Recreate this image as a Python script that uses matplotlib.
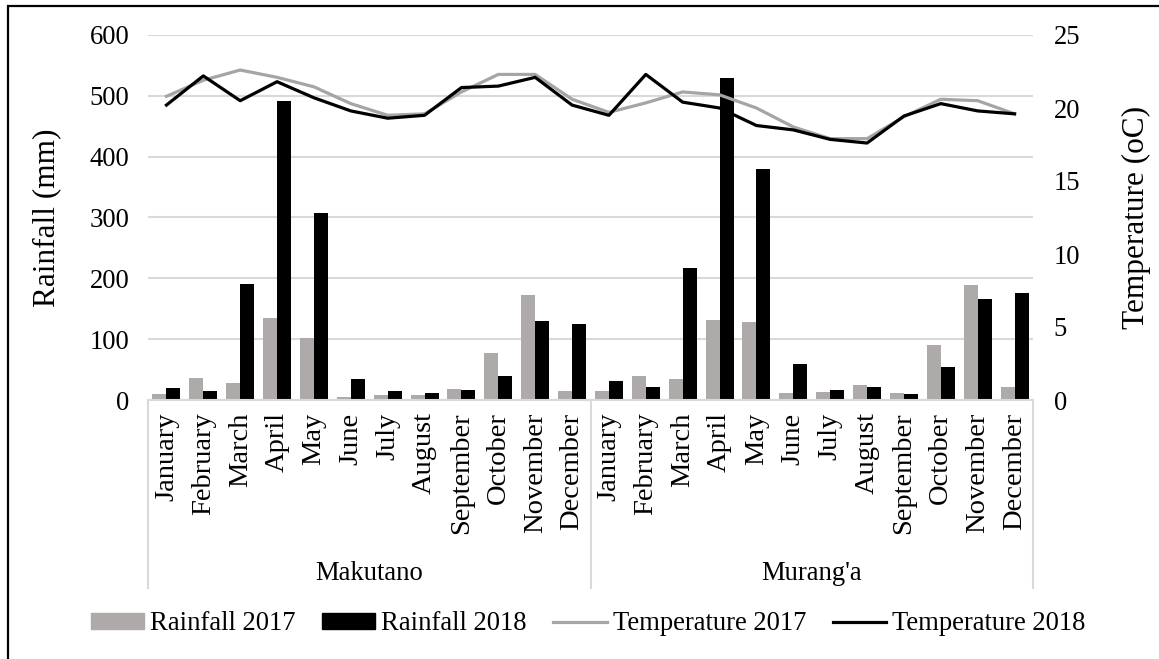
import numpy as np
import matplotlib
matplotlib.use("Agg")
import matplotlib.pyplot as plt
from matplotlib.patches import Rectangle
from matplotlib.lines import Line2D

plt.rcParams['font.family'] = ['Liberation Serif', 'DejaVu Serif']

months = ["January", "February", "March", "April", "May", "June", "July",
          "August", "September", "October", "November", "December"]
sites = ["Makutano", "Murang'a"]

# rainfall (mm), Makutano then Murang'a
rain_2017 = [10, 36, 28, 135, 102, 5, 9, 9, 18, 77, 172, 14,
             15, 39, 34, 131, 129, 12, 13, 24, 12, 90, 189, 21]
rain_2018 = [20, 15, 190, 492, 308, 34, 14, 12, 17, 40, 130, 125,
             31, 22, 217, 530, 379, 60, 17, 22, 10, 55, 166, 176]

# temperature (oC)
temp_2017 = [20.8, 21.9, 22.6, 22.1, 21.45, 20.3, 19.5, 19.6, 21.1, 22.3, 22.3, 20.6,
             19.7, 20.35, 21.1, 20.9, 20.0, 18.7, 17.9, 17.9, 19.4, 20.6, 20.5, 19.6]
temp_2018 = [20.2, 22.2, 20.5, 21.8, 20.7, 19.8, 19.3, 19.5, 21.4, 21.5, 22.1, 20.2,
             19.5, 22.3, 20.4, 20.0, 18.8, 18.5, 17.85, 17.6, 19.45, 20.3, 19.8, 19.6]

bar_gray = "#AEAAAA"
line_gray = "#A5A5A5"
grid_col = "#D9D9D9"
fs = 19.2

fig = plt.figure(figsize=(11.59, 6.59), dpi=100)
ax = fig.add_axes([148 / 1159, 1 - 400 / 659, 885 / 1159, 365 / 659])
ax2 = ax.twinx()

x = np.arange(len(rain_2017))
w = 0.38
ax.bar(x - w / 2, rain_2017, w, color=bar_gray, zorder=2)
ax.bar(x + w / 2, rain_2018, w, color="black", zorder=2)
ax.set_xlim(-0.5, len(x) - 0.5)
ax.set_ylim(0, 600)
ax.set_yticks(range(0, 601, 100))
ax.yaxis.grid(True, color=grid_col, linewidth=1.5, zorder=0)
ax.set_axisbelow(True)

ax2.plot(x, temp_2017, color=line_gray, linewidth=2.3, zorder=3)
ax2.plot(x, temp_2018, color="black", linewidth=2.3, zorder=3)
ax2.set_ylim(0, 25)
ax2.set_yticks(range(0, 26, 5))

for a in (ax, ax2):
    for s in ("top", "left", "right", "bottom"):
        a.spines[s].set_visible(False)
    a.tick_params(length=0, labelsize=fs)
ax.spines["bottom"].set_visible(True)
ax.spines["bottom"].set_color(grid_col)
ax.spines["bottom"].set_linewidth(1.5)

ax.tick_params(axis="y", pad=13.5)
ax2.tick_params(axis="y", pad=15)
ax.set_xticks(x)
ax.set_xticklabels(months * 2, rotation=90, va="top", ha="center", fontsize=20.5)
ax.tick_params(axis="x", pad=9)

ax.set_ylabel("Rainfall (mm)", fontsize=22.5)
ax.yaxis.set_label_coords(-0.098, 0.5)
ax2.set_ylabel("Temperature (oC)", fontsize=22.5, rotation=90)
ax2.yaxis.set_label_coords(1.101, 0.5)

# group separators and site labels
trans = ax.get_xaxis_transform()
for xs in (-0.5, 11.5, 23.5):
    ax.plot([xs, xs], [0, -0.514], transform=trans, color=grid_col,
            linewidth=1.5, clip_on=False)
for i, site in enumerate(sites):
    ax.text(5.5 + 12 * i, -0.475, site, transform=trans, ha="center",
            va="center", fontsize=fs)

handles = [Rectangle((0, 0), 1, 1, color=bar_gray),
           Rectangle((0, 0), 1, 1, color="black"),
           Line2D([], [], color=line_gray, linewidth=2.3),
           Line2D([], [], color="black", linewidth=2.3)]
labels = ["Rainfall 2017", "Rainfall 2018", "Temperature 2017", "Temperature 2018"]
fig.legend(handles, labels, loc="center", bbox_to_anchor=(588 / 1159, 1 - 624 / 659),
           ncol=4, frameon=False, fontsize=fs, handlelength=2.0,
           handleheight=0.5, handletextpad=0.22, columnspacing=1.0)

# outer frame
fig.patches.append(Rectangle((8 / 1159, -0.05), 1.1, 1 - 6 / 659 + 0.05,
                             transform=fig.transFigure, fill=False,
                             edgecolor="black", linewidth=1.6))

fig.savefig("out.png", dpi=100)
